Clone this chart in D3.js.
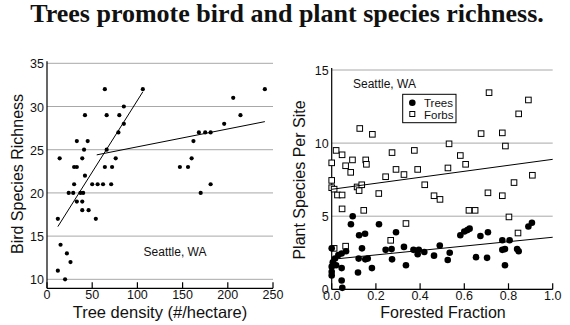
<!DOCTYPE html>
<html lang="en">
<head>
    <meta charset="UTF-8">
    <title>Trees promote bird and plant species richness</title>
    <script src="https://d3js.org/d3.v7.min.js"></script>
    <style>
        body { margin: 0; background: #fff; }
        text { font-family: "Liberation Sans", Arial, sans-serif; fill: #111; }
    </style>
</head>
<body>
</body>
<script>
    const WIDTH = 570, HEIGHT = 325;
    const TITLE = "Trees promote bird and plant species richness.";

    // left panel: bird species richness vs tree density
    const birdX = [64, 106, 241, 206, 214, 85, 42, 66, 80, 85, 196, 79, 168, 175, 181, 162, 33, 45,
        41, 66, 14, 39, 76, 160, 30, 33, 64, 72, 147, 156, 42, 30, 50, 56, 62, 71, 181, 24, 29, 37,
        40, 33, 39, 39, 46, 170, 54, 12, 15, 22, 26, 12, 20];
    const birdY = [32, 32, 32, 31, 29, 30, 29, 29, 29, 28, 28, 27, 27, 27, 27, 26, 26, 26,
        25, 25, 24, 24, 24, 24, 23, 23, 23, 23, 23, 23, 22, 21, 21, 21, 21, 21, 21, 20, 20, 20,
        20, 19, 19, 18, 18, 20, 17, 17, 14, 13, 12, 11, 10];
    const birdFitLow = [[12, 16.1], [106, 31.7]];
    const birdFitHigh = [[55, 24.4], [241, 28.25]];
    const birdXTicks = [0, 50, 100, 150, 200, 250];
    const birdYTicks = [10, 15, 20, 25, 30, 35];

    // right panel: plant species per site vs forested fraction
    const treeX = [0.0, 0.005, 0.0, 0.0, 0.0, 0.015, 0.03, 0.045, 0.065, 0.02, 0.045, 0.045, 0.048,
        0.087, 0.095, 0.124, 0.151, 0.119, 0.122, 0.137, 0.152, 0.163, 0.182, 0.214, 0.244, 0.271,
        0.273, 0.291, 0.327, 0.336, 0.37, 0.389, 0.394, 0.419, 0.463, 0.489, 0.525, 0.534, 0.582,
        0.6, 0.614, 0.624, 0.653, 0.673, 0.707, 0.703, 0.772, 0.784, 0.772, 0.805, 0.784, 0.839,
        0.846, 0.89, 0.906];
    const treeY = [2.8, 1.85, 1.55, 1.2, 0.95, 2.1, 2.35, 2.45, 2.6, 1.65, 1.45, 0.6, 0.1,
        4.45, 5.0, 3.7, 3.8, 1.15, 2.1, 2.8, 2.05, 2.1, 1.45, 4.45, 2.7, 2.75,
        2.05, 3.9, 2.9, 1.65, 2.7, 2.4, 2.7, 2.55, 2.3, 3.0, 2.0, 2.5, 3.7,
        3.95, 4.05, 4.15, 2.2, 3.65, 3.9, 2.15, 2.7, 2.75, 3.35, 3.35, 1.65, 2.75,
        2.6, 4.3, 4.55];
    const forbX = [0.0, 0.0, 0.0, 0.011, 0.02, 0.047, 0.026, 0.047, 0.047, 0.063, 0.086, 0.094,
        0.127, 0.115, 0.124, 0.136, 0.145, 0.154, 0.157, 0.184, 0.213, 0.011, 0.063, 0.273, 0.244,
        0.291, 0.327, 0.374, 0.389, 0.421, 0.463, 0.49, 0.336, 0.267, 0.531, 0.526, 0.582, 0.606,
        0.621, 0.649, 0.676, 0.712, 0.707, 0.772, 0.786, 0.772, 0.802, 0.825, 0.846, 0.843, 0.89,
        0.908];
    const forbY = [8.65, 7.45, 6.95, 6.85, 9.5, 9.2, 6.45, 6.45, 5.5, 8.45, 8.0, 8.85,
        11.0, 7.0, 6.75, 7.15, 5.4, 8.85, 8.55, 10.6, 6.55, 2.8, 2.95, 9.35, 7.7,
        8.2, 7.85, 9.5, 8.2, 7.15, 6.4, 6.15, 4.5, 3.35, 9.95, 8.3, 9.15, 8.55,
        5.4, 5.4, 10.65, 13.45, 6.6, 10.7, 9.8, 6.4, 4.95, 7.3, 12.0, 3.85, 12.95,
        7.8];
    const forbFit = [[0, 6.84], [1, 8.89]];
    const treeFit = [[0, 2.05], [1, 3.56]];
    const plantXTicks = [0, 0.2, 0.4, 0.6, 0.8, 1.0];
    const plantYTicks = [0, 5, 10, 15];

    let svg = d3.select("body").append("svg").attr("width", WIDTH).attr("height", HEIGHT);

    svg.append("text").text(TITLE)
        .attr("x", 287).attr("y", 22)
        .attr("text-anchor", "middle")
        .style("font-family", "'Liberation Serif', 'Times New Roman', serif")
        .style("font-weight", "bold").style("font-size", "26px");

    function frame(x, y, xTicks, yTicks, fmt) {
        let g = svg.append("g");
        let [x0, x1] = x.range();
        let [y0, y1] = y.range();
        // gridlines
        g.selectAll(".grid").data(yTicks).enter().append("line")
            .attr("x1", x0).attr("x2", x1)
            .attr("y1", d => y(d)).attr("y2", d => y(d))
            .attr("stroke", "#a8a8a8").attr("stroke-width", 1);
        // axes
        g.append("line").attr("x1", x0).attr("x2", x0).attr("y1", y0).attr("y2", y1 - 2)
            .attr("stroke", "#000").attr("stroke-width", 1.2);
        g.append("line").attr("x1", x0).attr("x2", x1).attr("y1", y0).attr("y2", y0)
            .attr("stroke", "#000").attr("stroke-width", 1.2);
        g.selectAll(".xt").data(xTicks).enter().append("line")
            .attr("x1", d => x(d)).attr("x2", d => x(d))
            .attr("y1", y0).attr("y2", y0 - 6)
            .attr("stroke", "#000").attr("stroke-width", 1.2);
        g.selectAll(".xl").data(xTicks).enter().append("text")
            .text(fmt)
            .attr("x", d => x(d)).attr("y", y0 + 11)
            .attr("text-anchor", "middle").style("font-size", "12.5px");
        g.selectAll(".yl").data(yTicks).enter().append("text")
            .text(d => d)
            .attr("x", x0 - 3).attr("y", d => y(d) + 5)
            .attr("text-anchor", "end").style("font-size", "12.5px");
        return g;
    }

    function fitLine(g, x, y, pts) {
        g.append("line")
            .attr("x1", x(pts[0][0])).attr("y1", y(pts[0][1]))
            .attr("x2", x(pts[1][0])).attr("y2", y(pts[1][1]))
            .attr("stroke", "#000").attr("stroke-width", 1);
    }

    // ---- left panel
    let bx = d3.scaleLinear().domain([0, 250]).range([47, 273]);
    let by = d3.scaleLinear().domain([8.96, 35]).range([288.3, 63.3]);
    let left = frame(bx, by, birdXTicks, birdYTicks, d => d);
    left.selectAll(".bird").data(birdX).enter().append("circle")
        .attr("cx", d => bx(d)).attr("cy", (d, i) => by(birdY[i]))
        .attr("r", 2.1).attr("fill", "#000");
    fitLine(left, bx, by, birdFitLow);
    fitLine(left, bx, by, birdFitHigh);
    left.append("text").text("Seattle, WA").attr("x", 175).attr("y", 256)
        .attr("text-anchor", "middle").style("font-size", "12px");
    left.append("text").text("Tree density (#/hectare)")
        .attr("x", 160).attr("y", 318).attr("text-anchor", "middle").style("font-size", "16.5px");
    left.append("text").text("Bird Species Richness")
        .attr("transform", "translate(23,174) rotate(-90)")
        .attr("text-anchor", "middle").style("font-size", "16px");

    // ---- right panel
    let px = d3.scaleLinear().domain([0, 1]).range([331.7, 552.7]);
    let py = d3.scaleLinear().domain([0, 15]).range([289.3, 70]);
    let right = frame(px, py, plantXTicks, plantYTicks, d => d.toFixed(1));
    right.selectAll(".forb").data(forbX).enter().append("rect")
        .attr("x", d => px(d) - 2.8).attr("y", (d, i) => py(forbY[i]) - 2.8)
        .attr("width", 5.6).attr("height", 5.6)
        .attr("fill", "#fff").attr("stroke", "#000").attr("stroke-width", 1);
    right.selectAll(".tree").data(treeX).enter().append("circle")
        .attr("cx", d => px(d)).attr("cy", (d, i) => py(treeY[i]))
        .attr("r", 3.3).attr("fill", "#000");
    fitLine(right, px, py, forbFit);
    fitLine(right, px, py, treeFit);
    right.append("text").text("Seattle, WA").attr("x", 353).attr("y", 88)
        .style("font-size", "12px");
    // legend
    right.append("rect").attr("x", 402.7).attr("y", 94.3).attr("width", 53.3).attr("height", 28.4)
        .attr("fill", "#fff").attr("stroke", "#000").attr("stroke-width", 1);
    right.append("circle").attr("cx", 412.3).attr("cy", 102.7).attr("r", 3.3).attr("fill", "#000");
    right.append("rect").attr("x", 409.8).attr("y", 111.5).attr("width", 5).attr("height", 5)
        .attr("fill", "#fff").attr("stroke", "#000");
    right.append("text").text("Trees").attr("x", 424).attr("y", 106.5).style("font-size", "11.5px");
    right.append("text").text("Forbs").attr("x", 424).attr("y", 118.5).style("font-size", "11.5px");
    right.append("text").text("Forested Fraction")
        .attr("x", 443).attr("y", 318).attr("text-anchor", "middle").style("font-size", "16px");
    right.append("text").text("Plant Species Per Site")
        .attr("transform", "translate(305,180) rotate(-90)")
        .attr("text-anchor", "middle").style("font-size", "16px");
</script>
</html>
